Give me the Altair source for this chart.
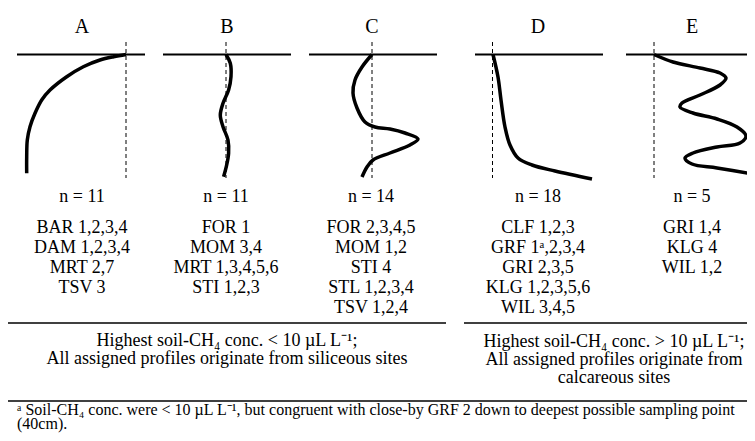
import altair as alt
import pandas as pd

# ---------------- data ----------------
panel_titles = ["A", "B", "C", "D", "E"]
panel_n = [11, 11, 14, 18, 5]
panel_sites = [
    ["BAR 1,2,3,4", "DAM 1,2,3,4", "MRT 2,7", "TSV 3"],
    ["FOR 1", "MOM 3,4", "MRT 1,3,4,5,6", "STI 1,2,3"],
    ["FOR 2,3,4,5", "MOM 1,2", "STI 4", "STL 1,2,3,4", "TSV 1,2,4"],
    ["CLF 1,2,3", "GRF 1ᵃ,2,3,4", "GRI 2,3,5", "KLG 1,2,3,5,6", "WIL 3,4,5"],
    ["GRI 1,4", "KLG 4", "WIL 1,2"],
]
group_left = ["Highest soil-CH₄ conc. < 10 µL L⁻¹;",
              "All assigned profiles originate from siliceous sites"]
group_right = ["Highest soil-CH₄ conc. > 10 µL L⁻¹;",
               "All assigned profiles originate from",
               "calcareous sites"]
footnote = ["ᵃ Soil-CH₄ conc. were < 10 µL L⁻¹, but congruent with close-by GRF 2 down to deepest possible sampling point",
            "(40cm)."]

# schematic profiles: deviation from reference line, depth below surface
curve_A_dev = [0, -12.4, -26, -42.7, -59.3, -76, -84.3, -91, -96, -98.7, -99.3, -99.3]
curve_A_depth = [0, 2.2, 5.5, 12.2, 22.2, 35.5, 45.5, 58.8, 72.2, 85.5, 102.2, 118.8]
curve_B_dev = [0, 4.3, 5, 2.6, -3, -5.7, -3, 2, 2.6, 0.3, -2.4]
curve_B_depth = [0, 8.8, 22.2, 35.5, 48.8, 60.5, 72.2, 85.5, 98.8, 112.2, 122.2]
curve_C_dev = [0, -10, -17, -19, -15, -7, 3, 18, 33, 46, 38, 18, 1, -5, -10]
curve_C_depth = [0, 12.5, 25.5, 38.5, 53.5, 67.5, 72.5, 74.5, 78.5, 84.5, 90.5, 98.5, 105.5, 112.5, 122.5]
curve_D_dev = [0.5, 5.5, 8.5, 12.5, 17.5, 25.5, 39.5, 62.5, 99.5]
curve_D_depth = [0, 22.5, 45.5, 72.5, 90.5, 103.5, 110.5, 116.5, 124.5]
curve_E_dev = [0, 19, 46, 66, 72, 66, 46, 28, 26, 39, 63, 83, 92, 86, 63, 39, 31, 38, 63, 99]
curve_E_depth = [0, 7.5, 13.5, 18.5, 23.5, 30.5, 40.5, 48.5, 52.5, 58.5, 64.5, 72.5, 81.5,
                 88.5, 92.5, 98.5, 103.5, 109.5, 113.5, 119.5]

curves_dev = [curve_A_dev, curve_B_dev, curve_C_dev, curve_D_dev, curve_E_dev]
curves_depth = [curve_A_depth, curve_B_depth, curve_C_depth, curve_D_depth, curve_E_depth]

# ---------------- layout ----------------
FONT = "Liberation Serif"
ZERO_X = [126, 226, 372, 492.5, 654]      # dashed reference line of each panel
TITLE_X = [82, 227, 372, 538, 692]
TEXT_X = [82, 226, 371, 538, 692]
SURF_LEFT = [17, 163, 309, 475, 626]
SURF_RIGHT = [145, 291, 437, 603, 760]
SURFACE_Y = 54.5
DASH_TOP, DASH_BOT = 42, 178
TITLE_Y, N_Y, LIST_Y0, LIST_DY = 27, 197, 228, 20

xs = alt.Scale(domain=[8, 747], nice=False, zero=False)
ys = alt.Scale(domain=[8, 433], nice=False, zero=False, reverse=True)

def X(f="x"):
    return alt.X(f"{f}:Q", scale=xs, axis=None)

def Y(f="y"):
    return alt.Y(f"{f}:Q", scale=ys, axis=None)

curve_rows = []
for p in range(5):
    for i, (d, z) in enumerate(zip(curves_dev[p], curves_depth[p])):
        curve_rows.append({"panel": panel_titles[p], "i": i,
                           "x": ZERO_X[p] + d, "y": SURFACE_Y + z})
curve_df = pd.DataFrame(curve_rows)

surf_df = pd.DataFrame({"x": SURF_LEFT, "x2": SURF_RIGHT, "y": [SURFACE_Y] * 5})
dash_df = pd.DataFrame({"x": ZERO_X, "y": [DASH_TOP] * 5, "y2": [DASH_BOT] * 5})
sep_df = pd.DataFrame({"x": [0, 464, 0], "x2": [446, 760, 760], "y": [323, 323, 401]})

title_df = pd.DataFrame({"x": TITLE_X, "y": [TITLE_Y] * 5, "text": panel_titles})
n_df = pd.DataFrame({"x": TEXT_X, "y": [N_Y] * 5, "text": [f"n = {n}" for n in panel_n]})
list_rows = []
for p in range(5):
    for k, s in enumerate(panel_sites[p]):
        list_rows.append({"x": TEXT_X[p], "y": LIST_Y0 + k * LIST_DY, "text": s})
list_df = pd.DataFrame(list_rows)
group_df = pd.DataFrame({
    "x": [227, 227, 614, 614, 614],
    "y": [341, 359, 342, 360, 378],
    "text": group_left + group_right,
})
foot_df = pd.DataFrame({"x": [17, 17], "y": [410, 423.5], "text": footnote})

surf = alt.Chart(surf_df).mark_rule(color="black", strokeWidth=2.2).encode(
    x=X(), x2="x2:Q", y=Y())
dash = alt.Chart(dash_df).mark_rule(color="black", strokeWidth=1, strokeDash=[4, 3]).encode(
    x=X(), y=Y(), y2="y2:Q")
seps = alt.Chart(sep_df).mark_rule(color="black", strokeWidth=1.5).encode(
    x=X(), x2="x2:Q", y=Y())
curves = alt.Chart(curve_df).mark_line(
    color="black", strokeWidth=3.5, interpolate="catmull-rom", strokeCap="butt"
).encode(x=X(), y=Y(), detail="panel:N", order="i:Q")

def txt(df, size, align="center"):
    return alt.Chart(df).mark_text(
        font=FONT, fontSize=size, align=align, baseline="middle", color="black"
    ).encode(x=X(), y=Y(), text="text:N")

chart = alt.layer(
    surf, dash, curves, seps,
    txt(title_df, 20), txt(n_df, 18), txt(list_df, 18), txt(group_df, 18),
    txt(foot_df, 16, "left"),
).properties(
    width=739, height=425, padding=0,
    autosize=alt.AutoSizeParams(type="none"),
).configure_view(stroke=None)

chart.save("out.html", embed_options={"renderer": "svg", "actions": False})
